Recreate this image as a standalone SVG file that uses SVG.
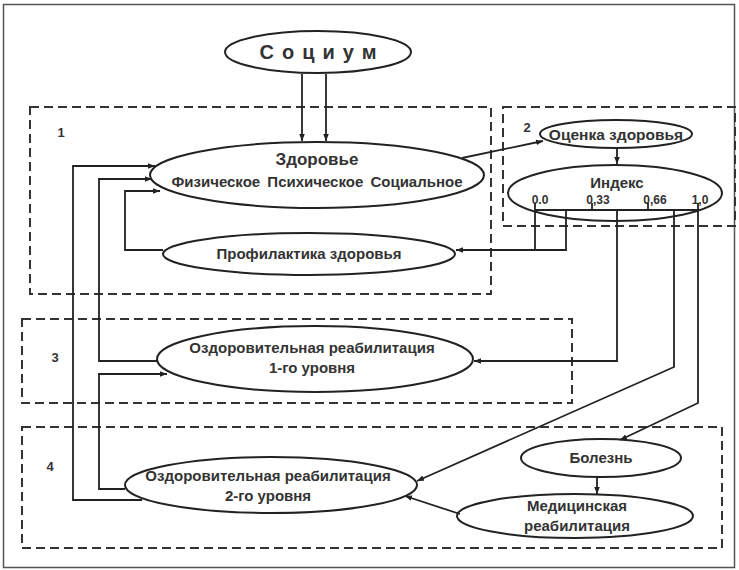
<svg xmlns="http://www.w3.org/2000/svg" width="739" height="570" viewBox="0 0 739 570">
<defs>
<marker id="ah" viewBox="0 0 10 10" refX="10" refY="5" markerWidth="7" markerHeight="7" orient="auto" markerUnits="userSpaceOnUse"><path d="M0,1 L10,5 L0,9 z" fill="#222"/></marker>
<style>
.t{font-family:"Liberation Sans",Arial,sans-serif;font-weight:bold;fill:#333;text-anchor:middle}
.n{fill:none;stroke:#222;stroke-width:2}
.b{fill:none;stroke:#333;stroke-width:2;stroke-dasharray:9 5}
.c{fill:none;stroke:#222;stroke-width:1.8}
</style>
</defs>
<rect x="0" y="0" width="739" height="570" fill="#fff"/>
<rect x="3.5" y="4.5" width="731" height="563" fill="none" stroke="#555" stroke-width="1.5"/>
<g id="boxes">
<rect class="b" x="30" y="107" width="461" height="187"/>
<rect class="b" x="503" y="107" width="232" height="119"/>
<rect class="b" x="22" y="319" width="550" height="84"/>
<rect class="b" x="22" y="427" width="700" height="121"/>
<text class="t" x="61" y="137" font-size="13">1</text>
<text class="t" x="527" y="132" font-size="13">2</text>
<text class="t" x="55" y="362" font-size="13">3</text>
<text class="t" x="50" y="471" font-size="13">4</text>
</g>
<g id="socium">
<ellipse class="n" cx="318" cy="52" rx="93" ry="21"/>
<text class="t" x="322" y="59" font-size="20" letter-spacing="8">Социум</text>
</g>
<g id="health">
<ellipse class="n" cx="317" cy="175" rx="167" ry="33"/>
<text class="t" x="317" y="165" font-size="17">Здоровье</text>
<text class="t" x="317" y="187" font-size="15" word-spacing="3">Физическое Психическое Социальное</text>
</g>
<g id="prophylaxis">
<ellipse class="n" cx="309" cy="254" rx="146" ry="21"/>
<text class="t" x="309" y="259" font-size="15">Профилактика здоровья</text>
</g>
<g id="assessment">
<ellipse class="n" cx="616" cy="134" rx="76" ry="14"/>
<text class="t" x="616" y="140" font-size="15.5">Оценка здоровья</text>
</g>
<g id="index">
<ellipse class="n" cx="615" cy="193" rx="107" ry="28"/>
<text class="t" x="617" y="188" font-size="15">Индекс</text>
<text class="t" x="540" y="204" font-size="12">0.0</text>
<text class="t" x="598" y="204" font-size="12">0,33</text>
<text class="t" x="655" y="204" font-size="12">0,66</text>
<text class="t" x="700" y="204" font-size="12">1,0</text>
<path class="c" d="M535,210 H700 M535,203 V210 M592,203 V210 M648,203 V210 M698,203 V210"/>
</g>
<g id="rehab1">
<ellipse class="n" cx="315" cy="359" rx="158" ry="33"/>
<text class="t" x="312" y="353" font-size="15">Оздоровительная реабилитация</text>
<text class="t" x="312" y="373" font-size="15">1-го уровня</text>
</g>
<g id="rehab2">
<ellipse class="n" cx="271" cy="485" rx="146" ry="28"/>
<text class="t" x="268" y="481" font-size="15">Оздоровительная реабилитация</text>
<text class="t" x="268" y="501" font-size="15">2-го уровня</text>
</g>
<g id="disease">
<ellipse class="n" cx="601" cy="458" rx="80" ry="19"/>
<text class="t" x="601" y="463" font-size="15">Болезнь</text>
</g>
<g id="medrehab">
<ellipse class="n" cx="575" cy="516" rx="118" ry="22"/>
<text class="t" x="577" y="511" font-size="15">Медицинская</text>
<text class="t" x="577" y="531" font-size="15">реабилитация</text>
</g>
<g id="connectors">
<path class="c" d="M302,74 V141" marker-end="url(#ah)"/>
<path class="c" d="M326,74 V141" marker-end="url(#ah)"/>
<path class="c" d="M462,158 L543,141" marker-end="url(#ah)"/>
<path class="c" d="M617,148 V164" marker-end="url(#ah)"/>
<path class="c" d="M535,210 V250 H566 V210"/>
<path class="c" d="M535,250 H456" marker-end="url(#ah)"/>
<path class="c" d="M163,250 H125 V191 H160" marker-end="url(#ah)"/>
<path class="c" d="M617,210 V361 H474" marker-end="url(#ah)"/>
<path class="c" d="M157,361 H99 V179 H152" marker-end="url(#ah)"/>
<path class="c" d="M125,489 H99 V374 H167" marker-end="url(#ah)"/>
<path class="c" d="M142,500 H73 V166 H155" marker-end="url(#ah)"/>
<path class="c" d="M674,210 V367 L417,481" marker-end="url(#ah)"/>
<path class="c" d="M698,210 V403 L620,440" marker-end="url(#ah)"/>
<path class="c" d="M597,477 V494" marker-end="url(#ah)"/>
<path class="c" d="M460,514 L405,496" marker-end="url(#ah)"/>
</g>
</svg>
